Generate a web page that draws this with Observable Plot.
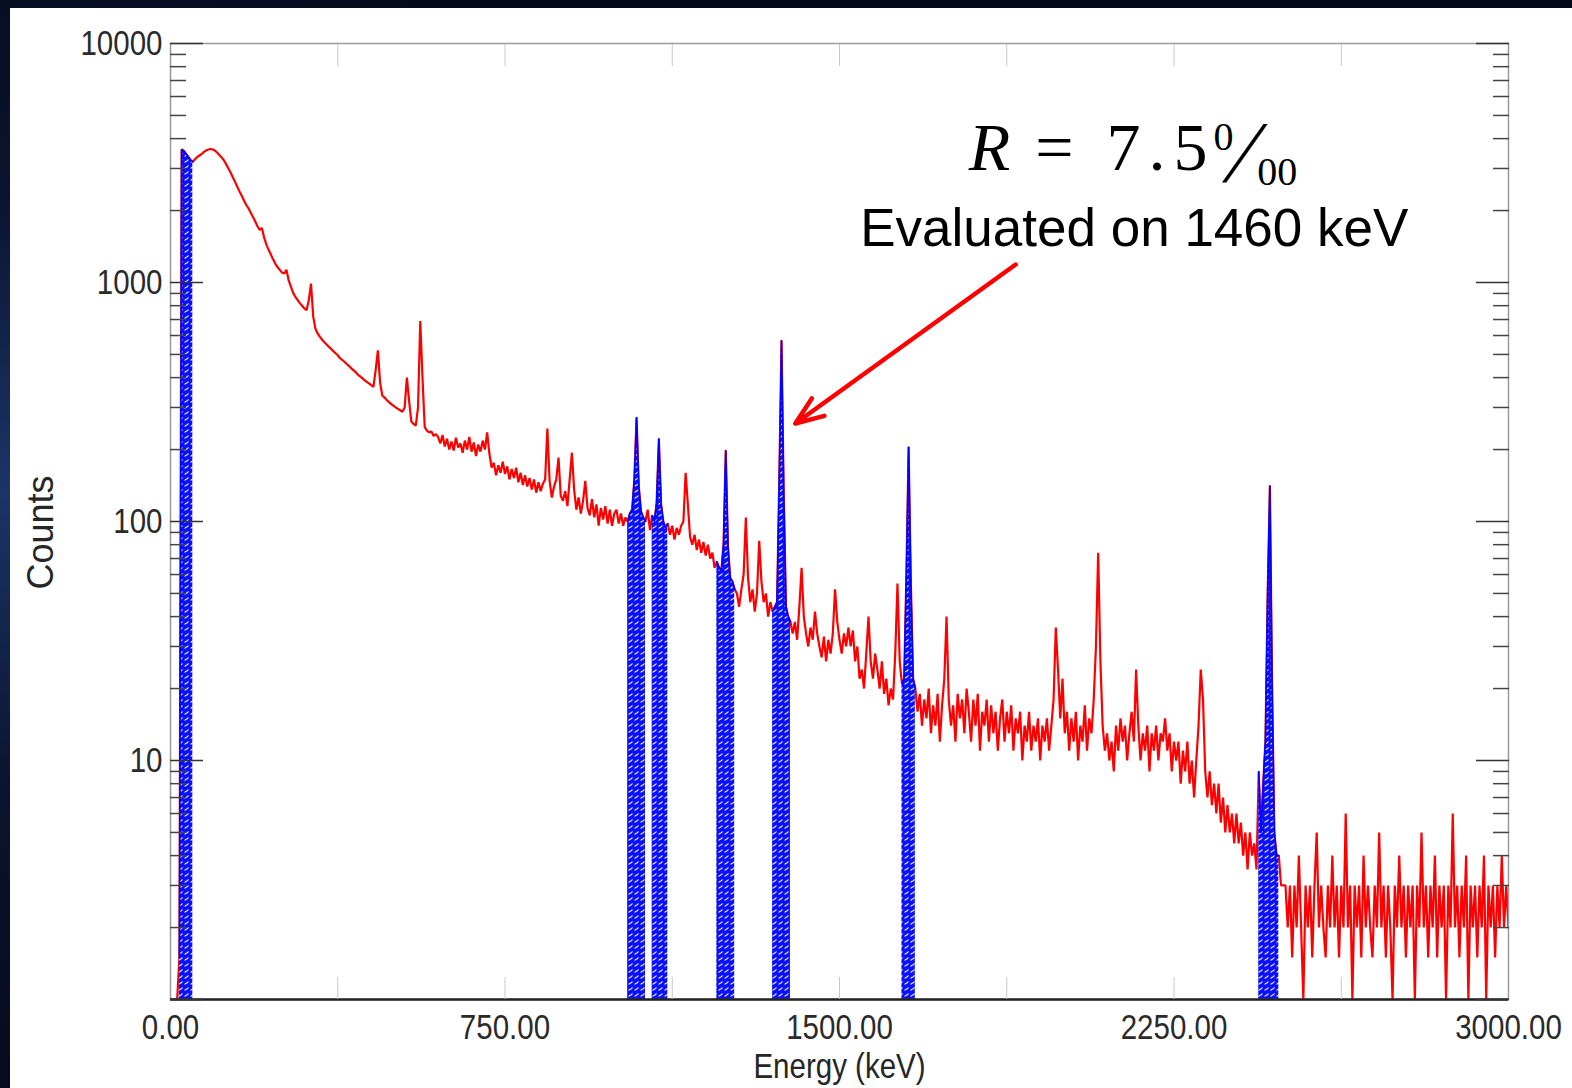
<!DOCTYPE html>
<html>
<head>
<meta charset="utf-8">
<script src="https://cdn.jsdelivr.net/npm/d3@7"></script>
<script src="https://cdn.jsdelivr.net/npm/@observablehq/plot@0.6"></script>
<style>
  html, body { margin: 0; padding: 0; }
  body {
    width: 1572px; height: 1088px; overflow: hidden; position: relative;
    background: radial-gradient(ellipse 40% 60% at 0% 45%, #1b3566 0%, #0a1430 45%, #050a1a 100%);
  }
  #panel { position: absolute; left: 10px; top: 8px; width: 1562px; height: 1080px; background: #ffffff; }
  #panel svg { display: block; }
</style>
</head>
<body>
<div id="panel"></div>
<script>
// ---- Spectrum counts, one value per 5 keV channel ----
const counts_0000 = [
  1,1,1,1,1.5,3600,3550,3450,3350,3250,
  3200,3280,3350,3400,3450,3520,3570,3600,3620,3600,
  3560,3490,3410,3330,3240,3120,3000,2880,2750,2630,
  2510,2400,2300,2200,2110,2040,1960,1880,1800,1720,
  1660,1690,1540,1440,1370,1310,1250,1200,1160,1130,
  1100,1090,1130,1020,960,905,870,845,820,800,
  780,765,840,990,720,640,612,592,576,562,
  550,538,528,516,506,496,482,474,466,456,
  448,438,430,422,412,405,398,390,384,378,
  372,366,430,520,380,336,330,322,316,310
];
const counts_0500 = [
  305,300,296,292,288,300,400,320,262,256,
  252,300,690,400,248,240,236,238,228,232,
  226,212,230,206,222,200,216,198,224,204,
  212,194,218,200,226,196,214,188,210,196,
  218,200,236,192,168,176,156,172,160,178,
  158,170,150,166,152,168,146,160,142,156,
  140,152,136,150,132,146,134,144,150,245,
  148,126,140,150,185,128,122,134,116,150,
  194,136,112,126,108,122,148,114,106,124,
  104,118,96,114,102,116,98,112,96,108
];
const counts_1000 = [
  112,98,108,96,104,100,108,112,150,272,
  140,110,104,100,112,92,106,100,120,222,
  118,100,94,98,88,96,84,94,88,96,
  100,160,118,86,80,88,76,84,74,82,
  72,80,70,74,64,68,64,62,80,198,
  78,58,56,52,50,44,52,60,104,58,
  46,52,42,50,83,56,46,50,40,46,
  42,44,46,150,572,130,44,40,38,34,
  38,32,44,64,40,34,30,36,32,42,
  34,30,27,33,26,32,28,34,52,38
];
const counts_1500 = [
  32,28,34,30,36,30,35,26,30,22,
  24,20,28,40,26,22,28,24,20,26,
  19,22,17,20,18,28,55,26,21,22,
  60,205,55,22,20,16,19,14,18,15,
  20,13,17,14,19,12,17,22,40,18,
  14,17,12,19,15,18,13,20,16,12,
  18,14,19,11,16,14,18,12,17,13,
  16,11,15,18,12,16,13,17,11,15,
  13,16,10,14,12,16,11,14,12,15,
  10,14,12,15,11,14,18,36,24,15
];
const counts_2000 = [
  22,13,16,11,15,12,16,10,14,12,
  17,11,15,13,18,30,74,26,14,11,
  13,10,12,9,14,11,15,12,14,10,
  13,16,12,24,14,10,13,11,14,9,
  13,11,14,10,13,12,15,11,13,9,
  12,10,12,8,11,9,12,8,10,7,
  10,14,24,18,9,7,9,6.5,8,6,
  8,5.5,7,5,6.5,5,6,4.5,6,4.5,
  5.5,4,5,3.5,5,4,4.5,3.5,9,5,
  8,12,50,141,20,5,4,4,3,3
];
const counts_2500 = [
  3,2,3,1.5,3,2,4,2,1,3,
  2,3,1.5,3,5,2,3,2,1.5,3,
  2,4,2,3,1.5,3,2,6,2,3,
  1,3,2,3,1.5,4,2,3,2,1.5,
  3,2,5,2,3,1.5,3,2,1,3,
  2,4,2,3,1.5,3,2,3,1,3,
  2,5,2,3,1.5,3,2,4,1.5,3,
  2,3,1,3,2,6,2,3,1.5,3,
  2,4,1,3,2,3,1.5,3,2,4,
  1,3,2,3,1.5,3,2,4,2,3,
  2
];
const keVPerChannel = 5;

// ---- Regions of interest (hatched peaks), keV ----
const roiStart = [20, 1025, 1080, 1225, 1350, 1640, 2440];
const roiEnd   = [50, 1065, 1115, 1265, 1390, 1670, 2485];

// ---- Ticks ----
const xLabelTicks = [0, 750, 1500, 2250, 3000];
const xMinorTicks = [375, 750, 1125, 1500, 1875, 2250, 2625];
const yLabelTicks = [10, 100, 1000, 10000];
const yMajorTicks = [1, 10, 100, 1000, 10000];
const yMinorTicks = [2,3,4,5,6,7,8,9,20,30,40,50,60,70,80,90,200,300,400,500,600,700,800,900,2000,3000,4000,5000,6000,7000,8000,9000];

// ---- Text ----
const xTitle = "Energy (keV)";
const yTitle = "Counts";
const resolutionText = "R = 7.5 ‰";
const noteText = "Evaluated on 1460 keV";
const resolutionNote = [{label: resolutionText, energy: 2158, counts: 2942}];
const evaluatedNote = [{label: noteText, energy: 2161, counts: 1428}];
const arrows = [{fromEnergy: 1895, fromCounts: 1189, toEnergy: 1401, toCounts: 257}];

// ---- Build tables ----
const counts = [].concat(counts_0000, counts_0500, counts_1000, counts_1500, counts_2000, counts_2500);
const spectrum = counts.map((c, i) => ({energy: i * keVPerChannel, counts: c}));
const roiPoints = roiStart.flatMap((s, k) =>
  spectrum.filter(d => d.energy >= s && d.energy <= roiEnd[k]).map(d => ({...d, roi: k})));

const sans = "'Liberation Sans',Arial,sans-serif";
const serif = "'Liberation Serif','Times New Roman',serif";
const blank = () => "";

const svg = Plot.plot({
  width: 1562,
  height: 1080,
  marginLeft: 160,
  marginRight: 64,
  marginTop: 35,
  marginBottom: 89,
  style: {background: "transparent", fontFamily: sans, fontSize: "36px", color: "#262626", overflow: "visible"},
  x: {domain: [0, 3000], axis: null},
  y: {type: "log", domain: [1, 10000], axis: null},
  marks: [
    // spectrum
    Plot.line(spectrum, {x: "energy", y: "counts", stroke: "#ff0000", strokeWidth: 2.2, strokeLinejoin: "miter", clip: true}),
    // hatched regions of interest
    Plot.areaY(roiPoints, {x: "energy", y1: 1, y2: "counts", z: "roi", fill: "url(#roiHatch)", clip: true}),
    Plot.line(roiPoints, {x: "energy", y: "counts", z: "roi", stroke: "#0000ff", strokeWidth: 1.6, clip: true}),
    // frame and axes
    Plot.frame({stroke: "#9a9a9a", strokeWidth: 1.5}),
    Plot.ruleY([1], {stroke: "#222", strokeWidth: 2.5}),
    Plot.axisX(xMinorTicks, {anchor: "bottom", tickSize: -22, stroke: "#c8c8c8", tickFormat: blank, label: null}),
    Plot.axisX(xMinorTicks, {anchor: "top", tickSize: -22, stroke: "#c8c8c8", tickFormat: blank, label: null}),
    Plot.axisY(yMajorTicks, {anchor: "left", tickSize: -33, stroke: "#333", strokeWidth: 1.6, tickFormat: blank, label: null}),
    Plot.axisY(yMinorTicks, {anchor: "left", tickSize: -16, stroke: "#444", strokeWidth: 1.5, tickFormat: blank, label: null}),
    Plot.axisY(yMajorTicks, {anchor: "right", tickSize: -33, stroke: "#333", strokeWidth: 1.6, tickFormat: blank, label: null}),
    Plot.axisY(yMinorTicks, {anchor: "right", tickSize: -16, stroke: "#444", strokeWidth: 1.5, tickFormat: blank, label: null}),
    Plot.axisY(yLabelTicks, {anchor: "left", tickSize: 0, tickPadding: 8, tickFormat: d => String(d), label: null, fontSize: 36, fill: "#2a2a2a"}),
    Plot.axisX(xLabelTicks, {anchor: "bottom", tickSize: 0, tickPadding: 14, tickFormat: d3.format(".2f"), label: null, fontSize: 36, fill: "#2a2a2a"}),
    // axis titles
    Plot.text([yTitle], {text: d => d, frameAnchor: "left", textAnchor: "middle", lineAnchor: "middle", dx: -129, dy: 11, rotate: -90, fontSize: 36, fontFamily: sans, fill: "#262626"}),
    Plot.text([xTitle], {text: d => d, frameAnchor: "bottom", textAnchor: "middle", lineAnchor: "bottom", dy: 78, fontSize: 36, fontFamily: sans, fill: "#262626"}),
    // annotation
    Plot.text(resolutionNote, {x: "energy", y: "counts", text: "label", fontSize: 68, fontFamily: serif, lineAnchor: "bottom", textAnchor: "middle", fill: "#000"}),
    Plot.text(evaluatedNote, {x: "energy", y: "counts", text: "label", fontSize: 53, fontFamily: sans, lineAnchor: "bottom", textAnchor: "middle", fill: "#000"}),
    Plot.arrow(arrows, {x1: "fromEnergy", y1: "fromCounts", x2: "toEnergy", y2: "toCounts", stroke: "#ff0000", strokeWidth: 4.5, headLength: 10, headAngle: 42})
  ]
});

// hatch pattern for the regions of interest
const defs = d3.select(svg).insert("defs", ":first-child");
const pat = defs.append("pattern").attr("id", "roiHatch").attr("patternUnits", "userSpaceOnUse")
  .attr("width", 6).attr("height", 6);
pat.append("rect").attr("width", 6).attr("height", 6).attr("fill", "#0a10ff");
pat.append("path").attr("d", "M0.8,4.6 C1.6,2.4 3.2,4.4 4.4,1.4").attr("stroke", "#ffffff")
  .attr("stroke-width", 1.1).attr("fill", "none");

// condensed look of the axis texts (the original figure is horizontally squeezed)
const squeeze = function () {
  const t = d3.select(this);
  t.attr("transform", (t.attr("transform") || "") + " scale(0.82,1)");
};
d3.select(svg).selectAll('[aria-label="x-axis tick label"] text, [aria-label="y-axis tick label"] text').each(squeeze);
d3.select(svg).selectAll("text").filter(function () { return this.textContent === xTitle; }).each(squeeze);

// compose the per-mille expression as an equation-editor style fraction
d3.select(svg).selectAll("text").filter(function () { return this.textContent === resolutionText; })
  .each(function () {
    const t = d3.select(this);
    t.text(null);
    t.append("tspan").attr("font-style", "italic").text("R");
    t.append("tspan").attr("letter-spacing", "8px").text("\u00A0=\u00A07.5");
    t.append("tspan").attr("font-size", 40).attr("dy", -20).attr("dx", -2).text("0");
    t.append("tspan").attr("font-size", 88).attr("dy", 32).attr("dx", 4).text("\u2044");
    t.append("tspan").attr("font-size", 40).attr("dy", 3).attr("dx", 5).text("00");
  });

document.getElementById("panel").appendChild(svg);
</script>
</body>
</html>
